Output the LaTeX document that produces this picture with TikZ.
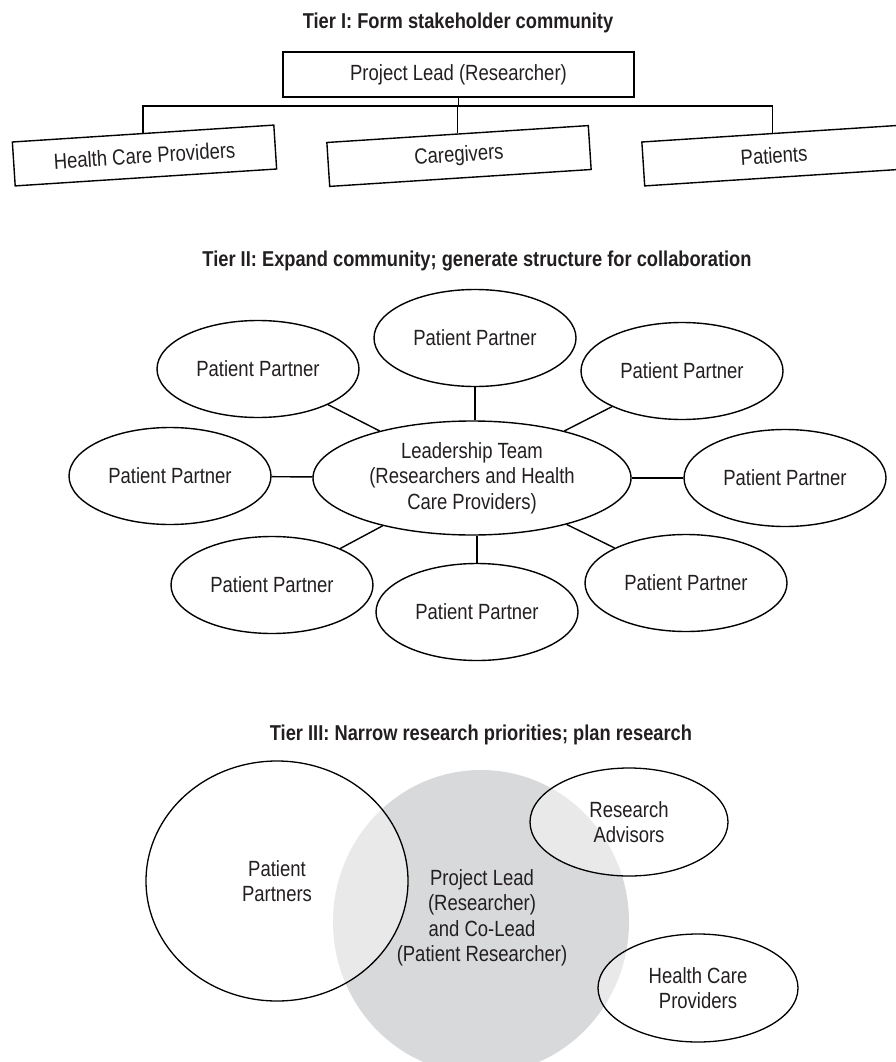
\documentclass[tikz,border=0pt]{standalone}
\usepackage{fontspec}
\setmainfont{Liberation Sans}[FakeStretch=0.84]
\newfontfamily\titlefont{Liberation Sans}[FakeStretch=0.85]
\usetikzlibrary{shapes.geometric}
\definecolor{leadgray}{RGB}{216,217,219}
\definecolor{txtc}{RGB}{35,31,32}
\tikzset{
  lbl/.style={font=\fontsize{22}{25.5}\selectfont, text=txtc, align=center},
  ttl/.style={font=\titlefont\bfseries\fontsize{21.5}{25}\selectfont, text=txtc, anchor=base},
  leadbox/.style={draw, line width=1.4pt, minimum width=351pt, minimum height=45pt, inner sep=0pt},
  tiltbox/.style={draw, line width=1.4pt, minimum width=262pt, minimum height=44pt, inner sep=0pt, rotate=3.7},
  pp/.style={ellipse, draw, line width=1.4pt, minimum width=202pt, minimum height=97pt, inner sep=0pt},
  pp3/.style={ellipse, draw, line width=1.3pt, inner sep=0pt, fill=white, fill opacity=0.44, text opacity=1, draw opacity=1},
  link/.style={line width=1.4pt},
}
\begin{document}
\begin{tikzpicture}[x=1pt,y=-1pt]
\useasboundingbox (0,0) rectangle (895,1062);

% ---------- Tier I ----------
\node[ttl] (t1) at (458,29) {Tier I: Form stakeholder community};
\node[leadbox,lbl] (lead) at (458.5,74.5) {Project Lead (Researcher)};
\node[tiltbox,lbl] (hcp) at (144.5,155.5) {Health Care Providers};
\node[tiltbox,lbl] (care) at (459,156) {Caregivers};
\node[tiltbox,lbl] (pat) at (774,155.5) {Patients};
\coordinate (bus) at (0,106);
\draw[link] (lead.south) -- (lead.south |- bus);
\draw[link] (hcp.north) -- (hcp.north |- bus) -- (pat.north |- bus) -- (pat.north);
\draw[link] (care.north) -- (care.north |- bus);

% ---------- Tier II ----------
\node[ttl] (t2) at (477,266) {Tier II: Expand community; generate structure for collaboration};
\node[pp,lbl,minimum width=318pt,minimum height=114pt] (team) at (472,478) {Leadership Team\\(Researchers and Health\\Care Providers)};
\node[pp,lbl] (p1) at (475,338) {Patient Partner};
\node[pp,lbl] (p2) at (258,369) {Patient Partner};
\node[pp,lbl] (p3) at (682,371) {Patient Partner};
\node[pp,lbl] (p4) at (170,476) {Patient Partner};
\node[pp,lbl] (p5) at (785,478) {Patient Partner};
\node[pp,lbl] (p6) at (272,585) {Patient Partner};
\node[pp,lbl] (p7) at (477,612) {Patient Partner};
\node[pp,lbl] (p8) at (686,583) {Patient Partner};
\draw[link] (p1.south) -- (p1.south |- team.north);
\draw[link] (p2) -- (team);
\draw[link] (p3) -- (team);
\draw[link] (p4) -- (team);
\draw[link] (p5) -- (team);
\draw[link] (p6) -- (team);
\draw[link] (p7.north) -- (p7.north |- team.south);
\draw[link] (p8) -- (team);

% ---------- Tier III ----------
\node[ttl] (t3) at (481,740) {Tier III: Narrow research priorities; plan research};
\node[ellipse, fill=leadgray, inner sep=0pt, minimum width=296pt, minimum height=304pt] (core) at (481,922) {};
\node[pp3,lbl,minimum width=262pt,minimum height=240pt] (ptn) at (277,881) {Patient\\Partners};
\node[pp3,lbl,minimum width=198pt,minimum height=108pt] (adv) at (629,822) {Research\\Advisors};
\node[pp3,lbl,minimum width=200pt,minimum height=108pt] (hcpr) at (698,988) {Health Care\\Providers};
\node[lbl] (coretxt) at (482,918) {Project Lead\\(Researcher)\\and Co-Lead\\(Patient Researcher)};
\end{tikzpicture}
\end{document}
